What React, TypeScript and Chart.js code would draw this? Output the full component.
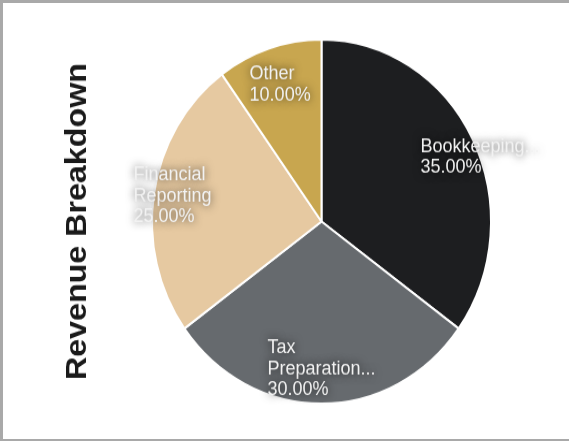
import React, { useEffect, useRef } from 'react';
import { Chart, registerables } from 'chart.js';

Chart.register(...registerables);

const chartTitle = 'Revenue Breakdown';
const categories = ['Bookkeeping...', 'Tax Preparation...', 'Financial Reporting', 'Other'];
const revenueShare = [35, 30, 25, 10];
const sliceColors = ['#1d1e20', '#666a6e', '#e6c9a1', '#c8a64f'];

function wrapText(ctx: CanvasRenderingContext2D, text: string, maxW: number): string[] {
  const words = text.split(' ');
  const lines: string[] = [];
  let cur = '';
  for (const w of words) {
    const test = cur ? cur + ' ' + w : w;
    if (cur && ctx.measureText(test).width > maxW) {
      lines.push(cur);
      cur = w;
    } else {
      cur = test;
    }
  }
  if (cur) lines.push(cur);
  return lines;
}

const sliceLabels = {
  id: 'sliceLabels',
  afterDatasetsDraw(chart: any, _args: any, opts: any) {
    const ctx: CanvasRenderingContext2D = chart.ctx;
    const meta = chart.getDatasetMeta(0);
    const data = chart.data.datasets[0].data as number[];
    const total = data.reduce((a, b) => a + b, 0);
    ctx.save();
    ctx.font = opts.font;
    ctx.textAlign = 'left';
    ctx.textBaseline = 'middle';
    meta.data.forEach((arc: any, i: number) => {
      const { x, y, startAngle, endAngle, outerRadius } = arc.getProps(
        ['x', 'y', 'startAngle', 'endAngle', 'outerRadius'],
        true
      );
      const mid = (startAngle + endAngle) / 2 + ((opts.angleShift[i] || 0) * Math.PI) / 180;
      const r = outerRadius * opts.radial[i];
      const ax = x + Math.cos(mid) * r;
      const ay = y + Math.sin(mid) * r;
      const lines = wrapText(ctx, String(chart.data.labels[i]), opts.wrapWidth);
      lines.push(((data[i] / total) * 100).toFixed(2) + '%');
      const w = Math.max(...lines.map((l) => ctx.measureText(l).width));
      const lh = opts.lineHeight;
      const top = ay - ((lines.length - 1) * lh) / 2;
      ctx.shadowColor = opts.shadowColor;
      ctx.shadowBlur = opts.shadowBlur;
      ctx.fillStyle = opts.color;
      lines.forEach((l, k) => ctx.fillText(l, ax - w / 2, top + k * lh));
    });
    ctx.restore();
  },
};

export default function App() {
  const ref = useRef<HTMLCanvasElement>(null);
  useEffect(() => {
    document.body.style.margin = '0';
    if (!ref.current) return;
    const chart = new Chart(ref.current, {
      type: 'pie',
      data: {
        labels: categories,
        datasets: [
          {
            data: revenueShare,
            backgroundColor: sliceColors,
            borderColor: '#ffffff',
            borderWidth: 2,
            hoverOffset: 0,
          },
        ],
      },
      options: {
        responsive: false,
        animation: false,
        devicePixelRatio: 1,
        layout: { padding: { left: 40, top: 33, bottom: 32, right: 77 } },
        plugins: {
          legend: { display: false },
          tooltip: { enabled: false },
          title: {
            display: true,
            text: chartTitle,
            position: 'left',
            color: '#1a1a1a',
            font: { family: "'Liberation Sans', Arial, sans-serif", size: 30, weight: 'bold' },
            padding: { top: 17, bottom: 55 },
          },
          sliceLabels: {
            font: "18px 'Liberation Sans', Arial, sans-serif",
            color: '#f2f2f2',
            shadowColor: 'rgba(0,0,0,0.75)',
            shadowBlur: 8,
            lineHeight: 19.5,
            wrapWidth: 110,
            radial: [1.0, 0.81, 0.89, 0.79],
            angleShift: [6.2, 0, 0, 0],
          },
        } as any,
      },
      plugins: [sliceLabels],
    });
    return () => chart.destroy();
  }, []);

  return (
    <div
      style={{
        width: 569,
        height: 441,
        boxSizing: 'border-box',
        borderTop: '3px solid #a9a9a9',
        borderLeft: '3px solid #a9a9a9',
        borderBottom: '2px solid #a9a9a9',
        background: '#ffffff',
        overflow: 'hidden',
      }}
    >
      <canvas
        ref={ref}
        width={566}
        height={406}
        style={{ width: '566px', height: '436px', display: 'block' }}
      />
    </div>
  );
}
